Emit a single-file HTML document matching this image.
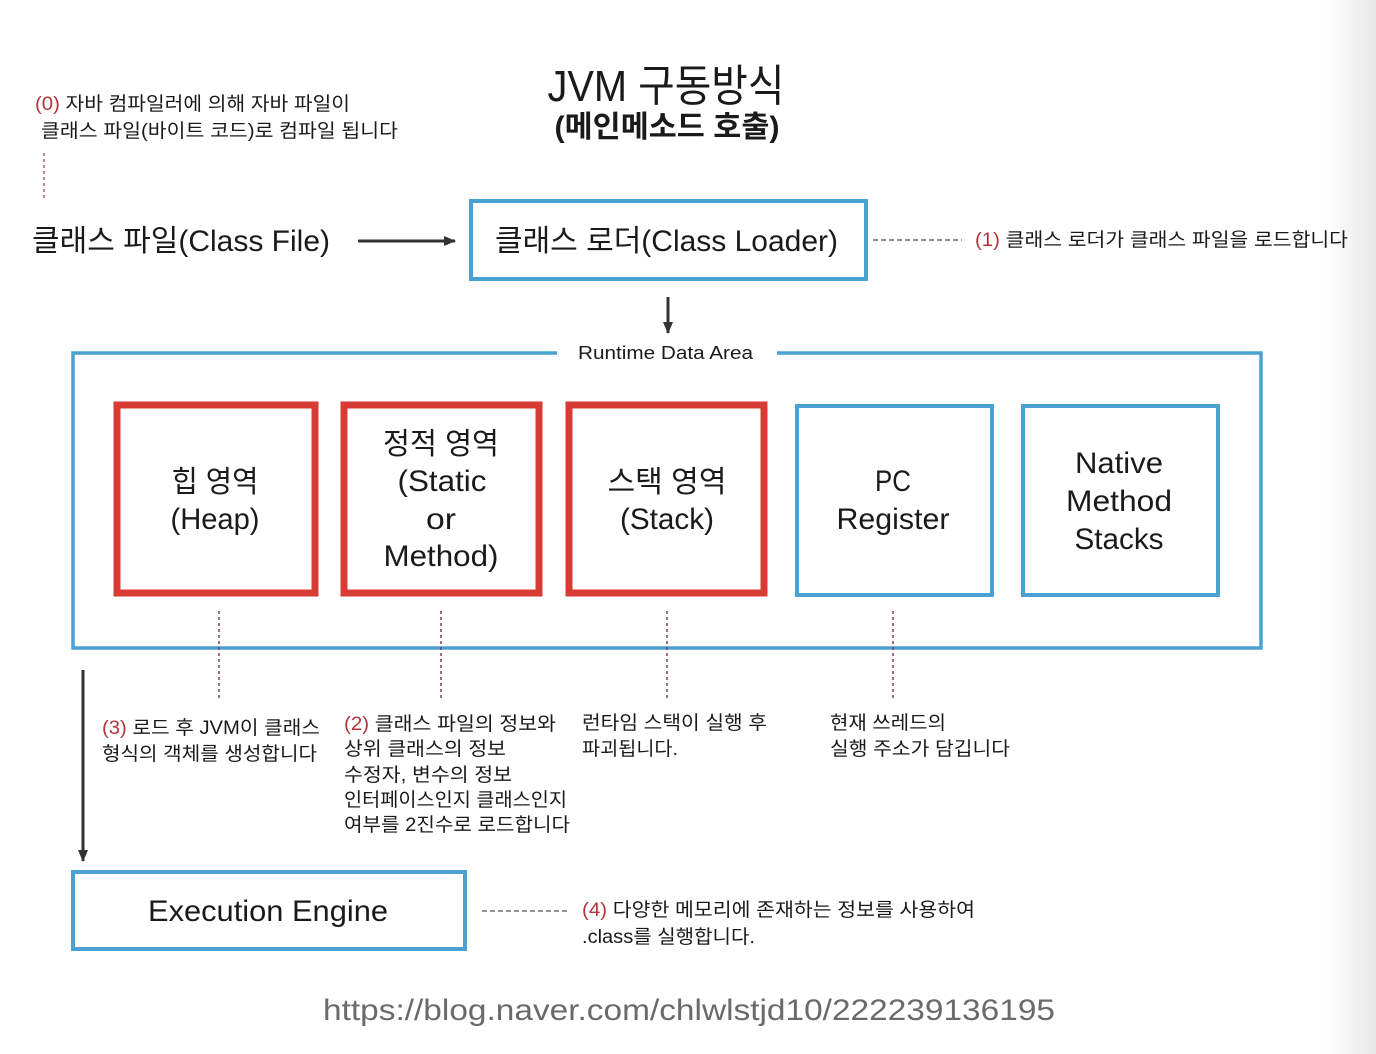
<!DOCTYPE html>
<html><head><meta charset="utf-8">
<style>
html,body{margin:0;padding:0;background:#fff;}
body{width:1376px;height:1054px;overflow:hidden;position:relative;}
.shade{position:absolute;right:0;top:0;width:50px;height:1054px;background:linear-gradient(to right,rgba(240,240,240,0),rgba(232,232,232,1));}
svg{position:absolute;left:0;top:0;}
text{font-family:"Liberation Sans","Noto Sans CJK KR",sans-serif;fill:#1a1a1a;}
.r{fill:#b0353a;}
</style></head><body>
<div class="shade"></div>
<svg width="1376" height="1054" viewBox="0 0 1376 1054" xmlns="http://www.w3.org/2000/svg">
<defs>
<marker id="ah" markerWidth="14" markerHeight="14" refX="11" refY="6" orient="auto" markerUnits="userSpaceOnUse">
<path d="M0,1 L12,6 L0,11 z" fill="#333"/>
</marker>
</defs>

<!-- Title -->
<text x="666" y="101" font-size="44" text-anchor="middle" textLength="237" lengthAdjust="spacingAndGlyphs">JVM 구동방식</text>
<text x="667" y="137" font-size="30" font-weight="bold" text-anchor="middle" textLength="225" lengthAdjust="spacingAndGlyphs">(메인메소드 호출)</text>

<!-- (0) annotation -->
<text x="35" y="110" font-size="19" textLength="315" lengthAdjust="spacingAndGlyphs"><tspan class="r">(0)</tspan> 자바 컴파일러에 의해 자바 파일이</text>
<text x="41" y="137" font-size="19" textLength="357" lengthAdjust="spacingAndGlyphs">클래스 파일(바이트 코드)로 컴파일 됩니다</text>
<line x1="44" y1="153" x2="44" y2="201" stroke="#a04050" stroke-width="1.2" stroke-dasharray="3,3"/>

<!-- Class File -->
<text x="32" y="251" font-size="30" textLength="298" lengthAdjust="spacingAndGlyphs">클래스 파일(Class File)</text>
<line x1="358" y1="241" x2="455" y2="241" stroke="#333" stroke-width="3" marker-end="url(#ah)"/>

<!-- Class Loader -->
<rect x="471" y="201" width="395" height="78" fill="none" stroke="#4aa2d2" stroke-width="4"/>
<text x="495" y="251" font-size="30" textLength="343" lengthAdjust="spacingAndGlyphs">클래스 로더(Class Loader)</text>
<line x1="873" y1="240" x2="962" y2="240" stroke="#555" stroke-width="1.2" stroke-dasharray="5,3"/>
<text x="975" y="246" font-size="19" textLength="373" lengthAdjust="spacingAndGlyphs"><tspan class="r">(1)</tspan> 클래스 로더가 클래스 파일을 로드합니다</text>

<!-- down arrow -->
<line x1="668" y1="297" x2="668" y2="333" stroke="#333" stroke-width="3" marker-end="url(#ah)"/>

<!-- Runtime Data Area -->
<rect x="73" y="353" width="1188" height="295" fill="none" stroke="#4aa2d2" stroke-width="3.5"/>
<rect x="557" y="340" width="220" height="26" fill="#fff"/>
<text x="578" y="359" font-size="18" textLength="175" lengthAdjust="spacingAndGlyphs">Runtime Data Area</text>

<!-- Red boxes -->
<rect x="117" y="405" width="198" height="188" fill="none" stroke="#d93a33" stroke-width="7"/>
<rect x="344" y="405" width="195" height="188" fill="none" stroke="#d93a33" stroke-width="7"/>
<rect x="569" y="405" width="195" height="188" fill="none" stroke="#d93a33" stroke-width="7"/>
<!-- Blue boxes -->
<rect x="797" y="406" width="195" height="189" fill="none" stroke="#4aa2d2" stroke-width="4"/>
<rect x="1023" y="406" width="195" height="189" fill="none" stroke="#4aa2d2" stroke-width="4"/>

<!-- box texts -->
<g font-size="30" text-anchor="middle">
<text x="215" y="492" textLength="87" lengthAdjust="spacingAndGlyphs">힙 영역</text>
<text x="215" y="529" textLength="89" lengthAdjust="spacingAndGlyphs">(Heap)</text>
<text x="441" y="454" textLength="116" lengthAdjust="spacingAndGlyphs">정적 영역</text>
<text x="442" y="491" textLength="89" lengthAdjust="spacingAndGlyphs">(Static</text>
<text x="441" y="529" textLength="30" lengthAdjust="spacingAndGlyphs">or</text>
<text x="441" y="566" textLength="115" lengthAdjust="spacingAndGlyphs">Method)</text>
<text x="667" y="492" textLength="119" lengthAdjust="spacingAndGlyphs">스택 영역</text>
<text x="667" y="529" textLength="94" lengthAdjust="spacingAndGlyphs">(Stack)</text>
<text x="893" y="491" textLength="36" lengthAdjust="spacingAndGlyphs">PC</text>
<text x="893" y="529" textLength="113" lengthAdjust="spacingAndGlyphs">Register</text>
<text x="1119" y="473" textLength="88" lengthAdjust="spacingAndGlyphs">Native</text>
<text x="1119" y="511" textLength="106" lengthAdjust="spacingAndGlyphs">Method</text>
<text x="1119" y="549" textLength="89" lengthAdjust="spacingAndGlyphs">Stacks</text>
</g>

<!-- dashed verticals -->
<g stroke="#7a3050" stroke-width="1.4" stroke-dasharray="3,3">
<line x1="219" y1="611" x2="219" y2="700"/>
<line x1="441" y1="611" x2="441" y2="700"/>
<line x1="667" y1="611" x2="667" y2="700"/>
<line x1="893" y1="611" x2="893" y2="700"/>
</g>

<!-- left down arrow -->
<line x1="83" y1="670" x2="83" y2="861" stroke="#333" stroke-width="3" marker-end="url(#ah)"/>

<!-- annotations -->
<g font-size="19">
<text x="102" y="734" textLength="218" lengthAdjust="spacingAndGlyphs"><tspan class="r">(3)</tspan> 로드 후 JVM이 클래스</text>
<text x="102" y="760" textLength="215" lengthAdjust="spacingAndGlyphs">형식의 객체를 생성합니다</text>

<text x="344" y="730" textLength="212" lengthAdjust="spacingAndGlyphs"><tspan class="r">(2)</tspan> 클래스 파일의 정보와</text>
<text x="344" y="755" textLength="162" lengthAdjust="spacingAndGlyphs">상위 클래스의 정보</text>
<text x="344" y="781" textLength="168" lengthAdjust="spacingAndGlyphs">수정자, 변수의 정보</text>
<text x="344" y="806" textLength="223" lengthAdjust="spacingAndGlyphs">인터페이스인지 클래스인지</text>
<text x="344" y="831" textLength="226" lengthAdjust="spacingAndGlyphs">여부를 2진수로 로드합니다</text>

<text x="582" y="729" textLength="185" lengthAdjust="spacingAndGlyphs">런타임 스택이 실행 후</text>
<text x="582" y="755" textLength="96" lengthAdjust="spacingAndGlyphs">파괴됩니다.</text>

<text x="830" y="729" textLength="116" lengthAdjust="spacingAndGlyphs">현재 쓰레드의</text>
<text x="830" y="755" textLength="180" lengthAdjust="spacingAndGlyphs">실행 주소가 담깁니다</text>
</g>

<!-- Execution Engine -->
<rect x="73" y="872" width="392" height="77" fill="none" stroke="#4aa2d2" stroke-width="4"/>
<text x="268" y="921" font-size="30" text-anchor="middle" textLength="240" lengthAdjust="spacingAndGlyphs">Execution Engine</text>
<line x1="482" y1="911" x2="568" y2="911" stroke="#555" stroke-width="1.2" stroke-dasharray="5,3"/>
<text x="582" y="916" font-size="19" textLength="393" lengthAdjust="spacingAndGlyphs"><tspan class="r">(4)</tspan> 다양한 메모리에 존재하는 정보를 사용하여</text>
<text x="582" y="943" font-size="19" textLength="173" lengthAdjust="spacingAndGlyphs">.class를 실행합니다.</text>

<!-- URL -->
<text x="323" y="1020" font-size="30" style="fill:#6a6a6a" textLength="732" lengthAdjust="spacingAndGlyphs">https://blog.naver.com/chlwlstjd10/222239136195</text>
</svg>
</body></html>
